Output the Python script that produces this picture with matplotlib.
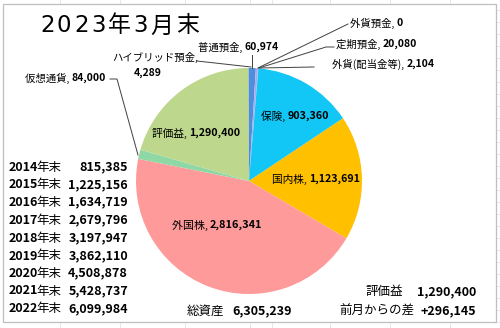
import matplotlib
matplotlib.use("Agg")
import matplotlib.pyplot as plt

plt.rcParams['font.family'] = ['Noto Sans CJK JP', 'DejaVu Sans']

# ---- data ----
title = "2023年3月末"
categories = ["普通預金", "外貨預金", "定期預金", "外貨(配当金等)", "保険", "国内株",
              "外国株", "仮想通貨", "評価益", "ハイブリッド預金"]
values = [60974, 0, 20080, 2104, 903360, 1123691, 2816341, 84000, 1290400, 4289]
colors = ["#4F8EDB", "#7FB0E8", "#AFA8EE", "#8CC0EA", "#12C6F6", "#FFC000",
          "#FF9A9A", "#8FD8A6", "#BDD88C", "#5B9BD5"]

years = ["2014年末", "2015年末", "2016年末", "2017年末", "2018年末",
         "2019年末", "2020年末", "2021年末", "2022年末"]
year_totals = ["815,385", "1,225,156", "1,634,719", "2,679,796", "3,197,947",
               "3,862,110", "4,508,878", "5,428,737", "6,099,984"]
total_label, total_value = "総資産", "6,305,239"
gain_label, gain_value = "評価益", "1,290,400"
diff_label, diff_value = "前月からの差", "+296,145"

W, H = 500, 328
fig = plt.figure(figsize=(W / 100, H / 100), dpi=100)
ax = fig.add_axes([0, 0, 1, 1])

def Y(y):
    return H - y

CX, CY, R = 249, 181, 113
ax.pie(values, colors=colors, startangle=90, counterclock=False,
       center=(CX, Y(CY)), radius=R, wedgeprops=dict(linewidth=0))
ax.set_xlim(0, W)
ax.set_ylim(0, H)
ax.set_aspect('auto')
ax.axis('off')

# faint sheet grid outside the chart frame
for gy in range(10, H, 12):
    ax.plot([497, W], [Y(gy), Y(gy)], color="#E3E3E3", lw=0.6, zorder=0)
for gx in [60, 120, 185, 250, 272, 330, 390, 450]:
    ax.plot([gx, gx], [Y(0), Y(4)], color="#E3E3E3", lw=0.6, zorder=0)
    ax.plot([gx, gx], [Y(323), Y(H)], color="#E3E3E3", lw=0.6, zorder=0)
ax.add_patch(plt.Rectangle((3, Y(322)), 493, 318, fill=False,
                           edgecolor="#BFBFBF", lw=0.9, zorder=1))

renderer = fig.canvas.get_renderer()

def rich(x, y, parts, ha="left", size=7.5, gap=0.0, family=None):
    """parts: list of (text, weight). x,y in top-origin pixels."""
    kw = {} if family is None else dict(family=family)
    widths = []
    for s, w in parts:
        t = ax.text(0, 0, s, fontsize=size, fontweight=w, **kw)
        widths.append(t.get_window_extent(renderer).width + gap)
        t.remove()
    total = sum(widths) - gap
    if ha == "left":
        x0 = x
    elif ha == "right":
        x0 = x - total
    else:
        x0 = x - total / 2
    for (s, w), wd in zip(parts, widths):
        ax.text(x0, Y(y), s, fontsize=size, fontweight=w, ha="left",
                va="center", color="black", zorder=5, **kw)
        x0 += wd

def lab(name, val):
    return [(name + ", ", "normal"), (f"{val:,}", "bold")]

# title (slightly tracked)
rich(40, 26, [(c, "normal") for c in title], "left", size=16.5, gap=2.5,
     family=['DejaVu Sans', 'Noto Sans CJK JP'])

# pie data labels
v = dict(zip(categories, values))
rich(295, 116, lab("保険", v["保険"]), "center", size=7.7)
rich(316, 179, lab("国内株", v["国内株"]), "center", size=7.7)
rich(217, 225, lab("外国株", v["外国株"]), "center", size=7.9)
rich(196, 133, lab("評価益", v["評価益"]), "center", size=7.7)
rich(238, 47, lab("普通預金", v["普通預金"]), "center")
rich(350, 23, lab("外貨預金", v["外貨預金"]), "left")
rich(336, 44, lab("定期預金", v["定期預金"]), "left")
rich(332, 64, lab("外貨(配当金等)", v["外貨(配当金等)"]), "left")
rich(25, 78, lab("仮想通貨", v["仮想通貨"]), "left")
rich(112, 57, [("ハイブリッド預金,", "normal")], "left")
rich(148, 73, [(f"{v['ハイブリッド預金']:,}", "bold")], "center")

# leader lines
lc = dict(color="#404040", lw=0.7, zorder=4)
def seg(pts):
    ax.plot([p[0] for p in pts], [Y(p[1]) for p in pts], **lc)
seg([(252, 55), (252, 68)])
seg([(197, 61), (251, 67)])
seg([(110, 79), (117, 79), (138, 155)])
seg([(348, 24), (258, 68)])
seg([(334, 47), (326, 47), (259, 68)])
seg([(314, 67), (259, 68)])

# yearly totals table
row_y = [167.3, 184.7, 202.3, 220.3, 238.3, 256.0, 273.3, 291.0, 308.7]
for yr, tot, yy in zip(years, year_totals, row_y):
    rich(9, yy, [(yr[:4], "bold"), (yr[4:], "normal")], "left", size=9, gap=-2)
    rich(128, yy, [(tot, "bold")], "right", size=9)

# bottom summary
rich(187, 311, [(total_label, "normal")], "left", size=9)
rich(292, 311, [(total_value, "bold")], "right", size=9)
rich(403, 292, [(gain_label, "normal")], "right", size=9)
rich(476, 292, [(gain_value, "bold")], "right", size=9)
rich(414, 311, [(diff_label, "normal")], "right", size=9)
rich(476, 311, [(diff_value, "bold")], "right", size=9)

fig.savefig("out.png", dpi=100)
